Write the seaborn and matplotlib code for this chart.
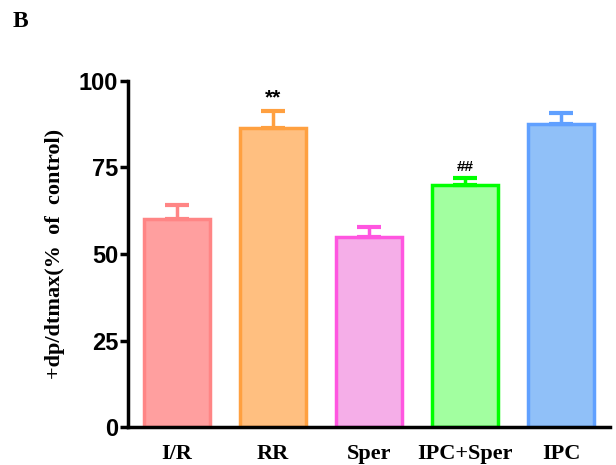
import numpy as np
import pandas as pd
import matplotlib
matplotlib.use("Agg")
from matplotlib import pyplot as plt
import seaborn as sns

groups = ["I/R", "RR", "Sper", "IPC+Sper", "IPC"]
means = [60, 86.5, 55, 70, 87.7]
sem = [4.2, 4.8, 2.8, 2.0, 3.0]
marks = ["", "**", "", "##", ""]
fills = ["#FF9F9F", "#FFBF80", "#F5AEE8", "#A2FFA0", "#90C0F8"]
edges = ["#FF8585", "#FFA040", "#FF55E0", "#00FF00", "#60A0FF"]

df = pd.DataFrame({"group": groups, "value": means})

sns.set_style("ticks")
fig = plt.figure(figsize=(6.16, 4.65), dpi=100)
ax = fig.add_axes([128 / 616, 1 - 427 / 465, (610 - 128) / 616, (427 - 81) / 465])

sns.barplot(data=df, x="group", y="value", hue="group", palette=fills,
            saturation=1, width=0.69, legend=False, ax=ax)
for bar, ec in zip(ax.patches, edges):
    bar.set_edgecolor(ec)
    bar.set_linewidth(2.5)

xs = np.arange(len(groups))
for x, m, e, ec, mk in zip(xs, means, sem, edges, marks):
    ax.errorbar(x, m, yerr=[[0], [e]], fmt="none", ecolor=ec, elinewidth=2.5,
                capsize=8.5, capthick=3, zorder=1)
    if mk:
        ax.text(x, m + e + 1.0, mk, ha="center", va="bottom", color="black",
                fontsize=15 if mk == "**" else 11, fontweight="bold",
                family="Liberation Sans")

ax.set_xlim(-0.51, 4.51)
ax.set_ylim(0, 100)
ax.set_yticks([0, 25, 50, 75, 100])
for sp in ["top", "right"]:
    ax.spines[sp].set_visible(False)
for sp in ["left", "bottom"]:
    ax.spines[sp].set_linewidth(2.5)
    ax.spines[sp].set_color("black")
ax.tick_params(axis="y", width=2.5, length=6, pad=1, color="black", labelcolor="black")
ax.tick_params(axis="x", length=0, pad=12, labelcolor="black")
for t in ax.get_yticklabels():
    t.set_fontfamily("Liberation Sans")
    t.set_fontweight("bold")
    t.set_fontsize(17)
for t in ax.get_xticklabels():
    t.set_fontfamily("Liberation Serif")
    t.set_fontweight("bold")
    t.set_fontsize(16)
ax.set_xlabel("")
ax.set_ylabel("+dp/dtmax(%  of  control)", fontfamily="Liberation Serif",
              fontweight="bold", fontsize=16, labelpad=10, color="black")

fig.text(13 / 616, 1 - 27 / 465, "B", fontfamily="Liberation Serif",
         fontweight="bold", fontsize=17, color="black")

fig.savefig("out.png", dpi=100)
